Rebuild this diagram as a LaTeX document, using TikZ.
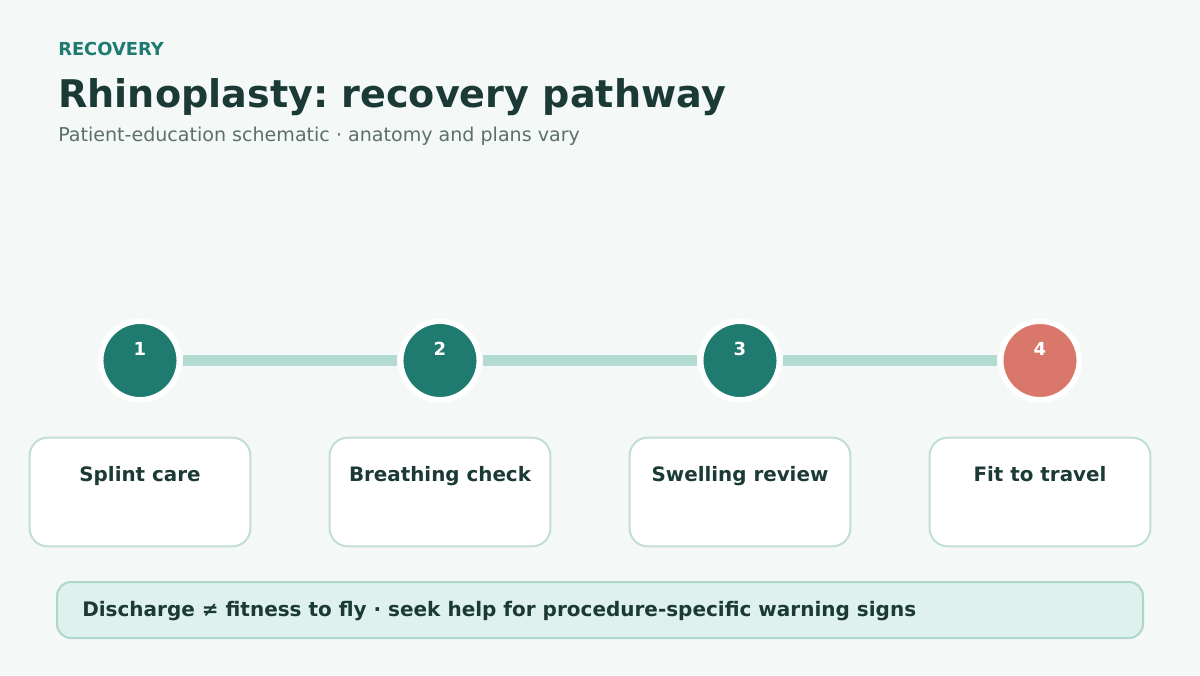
\documentclass[tikz,border=0pt]{standalone}
\usepackage{fontspec}
\setmainfont{DejaVu Sans}
\frenchspacing
\definecolor{bg}{HTML}{F4F9F8}
\definecolor{teal}{HTML}{1F7A70}
\definecolor{coral}{HTML}{D9786A}
\definecolor{barc}{HTML}{B3DBD2}
\definecolor{boxline}{HTML}{C2DED7}
\definecolor{banfill}{HTML}{DFF1ED}
\definecolor{banline}{HTML}{B0D6CC}
\definecolor{darktext}{HTML}{1B3A36}
\definecolor{subtext}{HTML}{5B6F6C}
\begin{document}
\begin{tikzpicture}[x=0.75pt,y=-0.75pt,
  stepdot/.style={circle,fill=teal,draw=white,line width=4.1pt,minimum size=58.9pt,inner sep=0pt},
  enddot/.style={stepdot,fill=coral},
  numtext/.style={anchor=base,text=white,font=\fontsize{13.5}{16}\selectfont\bfseries,inner sep=0pt},
  bar/.style={barc,line width=8.8pt,shorten >=0.8pt,shorten <=0.8pt},
  stepbox/.style={draw=boxline,fill=white,line width=1.5pt,rounded corners=13.5pt,minimum width=165.5pt,minimum height=81.5pt,inner sep=0pt},
  boxtext/.style={anchor=base,text=darktext,font=\fontsize{14.9}{17}\selectfont\bfseries,inner sep=0pt},
  banner/.style={draw=banline,fill=banfill,line width=1.5pt,rounded corners=10.5pt,minimum width=814.5pt,minimum height=42pt,inner sep=0pt}
]
\fill[bg] (0,0) rectangle (1200,675);
\useasboundingbox (0,0) rectangle (1200,675);

\node[anchor=base west,inner sep=0pt,text=teal,font=\fontsize{13.4}{15}\selectfont\bfseries] (kicker) at (58,55) {RECOVERY};
\node[anchor=base west,inner sep=0pt,text=darktext,font=\fontsize{28.6}{32}\selectfont\bfseries] (title) at (58,107.5) {Rhinoplasty: recovery pathway};
\node[anchor=base west,inner sep=0pt,text=subtext,font=\fontsize{14.3}{17}\selectfont] (sub) at (58,141.5) {Patient-education schematic · anatomy and plans vary};

\node[stepdot] (c1) at (140,360.5) {};
\node[stepdot] (c2) at (440,360.5) {};
\node[stepdot] (c3) at (740,360.5) {};
\node[enddot] (c4) at (1040,360.5) {};

\draw[bar] (c1) -- (c2);
\draw[bar] (c2) -- (c3);
\draw[bar] (c3) -- (c4);

\node[numtext] (n1) at (140,355.5) {1};
\node[numtext] (n2) at (440,355.5) {2};
\node[numtext] (n3) at (740,355.5) {3};
\node[numtext] (n4) at (1040,355.5) {4};

\node[stepbox] (b1) at (140,492) {};
\node[stepbox] (b2) at (440,492) {};
\node[stepbox] (b3) at (740,492) {};
\node[stepbox] (b4) at (1040,492) {};

\node[boxtext] (t1) at (140,481.5) {Splint care};
\node[boxtext] (t2) at (440,481.5) {Breathing check};
\node[boxtext] (t3) at (740,481.5) {Swelling review};
\node[boxtext] (t4) at (1040,481.5) {Fit to travel};

\node[banner] (ban) at (600,610) {};
\node[anchor=base west,inner sep=0pt,text=darktext,font=\fontsize{15}{18}\selectfont\bfseries] (bantext) at (82,616.5) {Discharge ≠ fitness to fly · seek help for procedure-specific warning signs};
\end{tikzpicture}
\end{document}
